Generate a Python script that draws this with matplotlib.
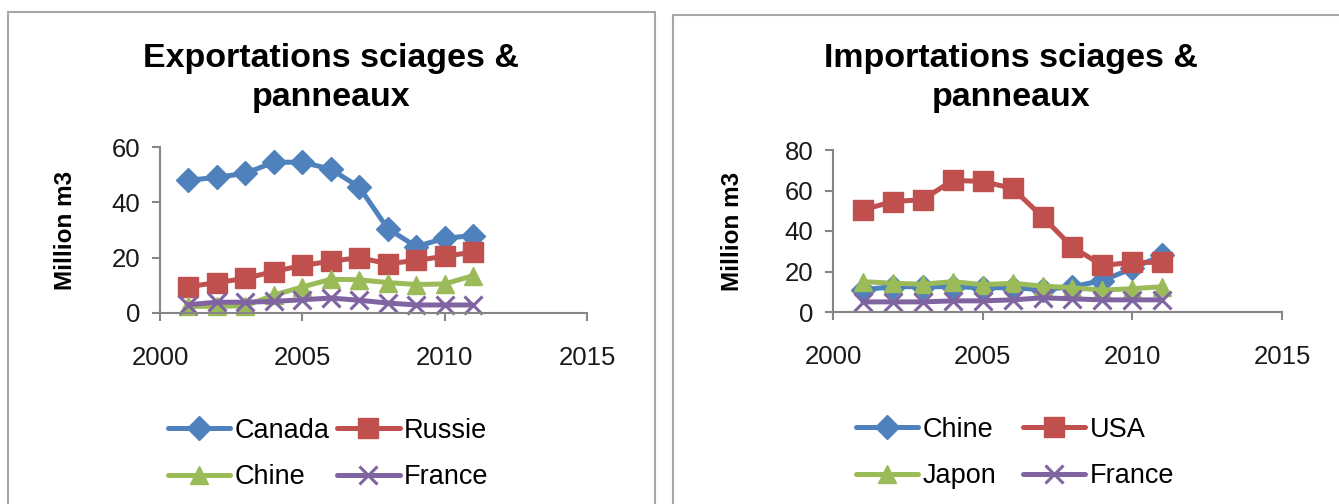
import matplotlib
matplotlib.use("Agg")
import matplotlib.pyplot as plt
from matplotlib.patches import Rectangle

plt.rcParams['font.family'] = ['Liberation Sans', 'DejaVu Sans']

years = [2001, 2002, 2003, 2004, 2005, 2006, 2007, 2008, 2009, 2010, 2011]

# Exportations
exp_canada = [48, 49, 50.5, 54.5, 54.5, 52, 45.5, 30.5, 24, 27, 28]
exp_russie = [9.5, 11, 12.5, 15, 17.2, 18.7, 20, 17.8, 19, 20.5, 22]
exp_chine = [2.4, 2.4, 2.6, 6.5, 9.4, 12.2, 12, 11, 10.3, 10.5, 13.5]
exp_france = [3, 3.9, 3.9, 4.2, 4.8, 5.4, 4.6, 3.6, 2.9, 2.9, 2.9]

# Importations
imp_chine = [11, 12.5, 12.5, 12.5, 12, 12, 11, 12.5, 15.5, 21.5, 28]
imp_usa = [50.5, 54.5, 55.5, 65, 64.5, 61, 47, 32, 23, 24.5, 24.5]
imp_japon = [15, 14.2, 13.7, 15, 13.5, 14.2, 12.8, 12, 10.8, 11.5, 12.5]
imp_france = [5, 5, 5, 5.5, 5.5, 6, 7, 6.5, 6, 6, 6]

exp_labels = ['Canada', 'Russie', 'Chine', 'France']
imp_labels = ['Chine', 'USA', 'Japon', 'France']
xticks = [2000, 2005, 2010, 2015]

colors = ['#4F81BD', '#C0504D', '#9BBB59', '#8064A2']
markers = ['D', 's', '^', 'x']
msizes = [12, 14, 13, 13]

W, H = 1339, 504
fig = plt.figure(figsize=(W / 100, H / 100), dpi=100)

def fx(px):
    return px / W

def fy(py):
    return 1 - py / H

# chart frames
fig.patches.append(Rectangle((fx(8), fy(520)), fx(655 - 8), fy(12) - fy(520),
                             transform=fig.transFigure, fill=False,
                             edgecolor='#A6A6A6', lw=1.5))
fig.patches.append(Rectangle((fx(673), fy(520)), fx(1360 - 673), fy(15) - fy(520),
                             transform=fig.transFigure, fill=False,
                             edgecolor='#A6A6A6', lw=1.5))

def make(ax_rect, series, labels, ymax, ystep, title, title_x, ylabel_x,
         leg_anchor, colspace):
    ax = fig.add_axes(ax_rect)
    handles = []
    for s, lab, c, m, ms in zip(series, labels, colors, markers, msizes):
        kw = dict(color=c, lw=3.6, marker=m, markersize=ms, label=lab,
                  solid_capstyle='round', solid_joinstyle='round')
        if m == 'x':
            kw.update(markeredgewidth=2.2)
        else:
            kw.update(markeredgecolor=c)
        h, = ax.plot(years, s, **kw)
        handles.append(h)
    ax.set_xlim(2000, 2015)
    ax.set_ylim(0, ymax)
    ax.set_xticks(xticks)
    ax.set_yticks(list(range(0, ymax + 1, ystep)))
    for sp in ['top', 'right']:
        ax.spines[sp].set_visible(False)
    for sp in ['left', 'bottom']:
        ax.spines[sp].set_color('#868686')
        ax.spines[sp].set_linewidth(1.5)
    ax.tick_params(axis='both', colors='#868686', labelcolor='black',
                   labelsize=18.5, length=6, width=1.5, direction='out')
    ax.tick_params(axis='x', pad=18)
    ax.tick_params(axis='y', pad=8)
    for lbl in ax.get_xticklabels() + ax.get_yticklabels():
        lbl.set_color('#1a1a1a')
    for ln in ax.lines:
        ln.set_clip_on(False)
    fig.text(fx(title_x), fy(78), title, ha='center', va='center',
             fontsize=24.5, fontweight='bold', linespacing=1.3)
    fig.text(fx(ylabel_x), (ax_rect[1] + ax_rect[1] + ax_rect[3]) / 2,
             'Million m3', rotation=90, ha='center', va='center',
             fontsize=17.5, fontweight='bold')
    order = [0, 2, 1, 3]
    fig.legend(handles=[handles[i] for i in order],
               labels=[labels[i] for i in order], ncol=2,
               loc='center', bbox_to_anchor=leg_anchor,
               frameon=False, fontsize=19.5, handlelength=2.3,
               handletextpad=0.15, columnspacing=colspace,
               labelspacing=0.75, borderaxespad=0)
    return ax

make([fx(160), fy(313), fx(587) - fx(160), fy(147) - fy(313)],
     [exp_canada, exp_russie, exp_chine, exp_france], exp_labels,
     60, 20, 'Exportations sciages &\npanneaux', 331, 65,
     (fx(328), fy(454)), 0.3)

make([fx(833), fy(312), fx(1282) - fx(833), fy(150) - fy(312)],
     [imp_chine, imp_usa, imp_japon, imp_france], imp_labels,
     80, 20, 'Importations sciages &\npanneaux', 1011, 732,
     (fx(1015), fy(453)), 1.0)

fig.savefig('out.png', dpi=100, facecolor='white')
